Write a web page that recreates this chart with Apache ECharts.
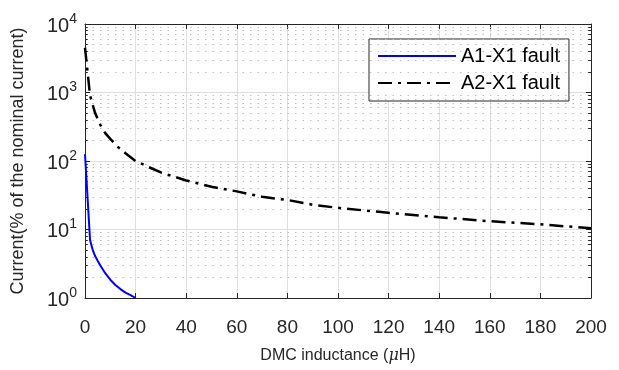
<!DOCTYPE html>
<html>
<head>
<meta charset="utf-8">
<script src="https://cdn.jsdelivr.net/npm/echarts@6/dist/echarts.min.js"></script>
<style>html,body{margin:0;padding:0;background:#fff}#c{width:619px;height:370px}</style>
</head>
<body>
<div id="c"></div>
<script>
// ---- data ----
var seriesNames = ['A1-X1 fault', 'A2-X1 fault'];
var a1x = [0, 2, 3, 4, 5, 6, 8, 10, 12, 14, 16, 18, 20];
var a1y = [126, 7.0, 5.1, 4.1, 3.5, 3.0, 2.3, 1.85, 1.55, 1.35, 1.2, 1.1, 1.0];
var a2x = [0, 2, 4, 6, 8, 10, 13, 16, 20, 25, 30, 40, 50, 60, 70, 80, 90, 100, 120, 140, 160, 180, 200];
var a2y = [4500, 900, 500, 340, 255, 210, 160, 130, 100, 82, 68, 52, 42, 36, 30, 27, 23, 20.7, 17.5, 15.1, 13.2, 11.9, 10.4];
var xTicks = [0, 20, 40, 60, 80, 100, 120, 140, 160, 180, 200];
var yDecades = [1, 10, 100, 1000, 10000];
var yExponents = ['0', '1', '2', '3', '4'];
var yMinor = [2,3,4,5,6,7,8,9,20,30,40,50,60,70,80,90,200,300,400,500,600,700,800,900,2000,3000,4000,5000,6000,7000,8000,9000];
var xTitle = 'DMC inductance (';
var xUnit = ['\u03bc', 'H)'];
var yTitle = 'Current(% of the nominal current)';

// ---- build ----
var FONT = 'Liberation Sans, Arial, Helvetica, sans-serif';
var AX = '#262626';
function pairs(xs, ys) { return xs.map(function (x, i) { return [x, ys[i]]; }); }
var xMin = xTicks[0], xMax = xTicks[xTicks.length - 1];

var minorGrid = yMinor.map(function (v) { return { yAxis: v }; });
var minorTickL = yMinor.map(function (v) { return [{ coord: [xMin, v] }, { coord: [xMin + 1.1, v] }]; });
var minorTickR = yMinor.map(function (v) { return [{ coord: [xMax - 1.1, v] }, { coord: [xMax, v] }]; });

var chart = echarts.init(document.getElementById('c'), null, { renderer: 'canvas' });
chart.setOption({
  animation: false,
  backgroundColor: '#fff',
  textStyle: { fontFamily: FONT },
  grid: { left: 85, right: 28, top: 24, bottom: 72, containLabel: false },
  legend: {
    orient: 'vertical',
    left: 369, top: 39,
    padding: [5, 9, 6, 8],
    itemWidth: 78, itemHeight: 14, itemGap: 3,
    backgroundColor: '#fff',
    borderColor: AX, borderWidth: 1,
    borderRadius: 0,
    itemStyle: { opacity: 0 },
    textStyle: { fontFamily: FONT, fontSize: 20, color: '#000', lineHeight: 24 },
    data: seriesNames
  },
  xAxis: [{
    type: 'value', min: xMin, max: xMax, interval: 20,
    name: '{t|' + xTitle + '}{m|' + xUnit[0] + '}{t|' + xUnit[1] + '}',
    nameLocation: 'middle', nameGap: 50,
    nameTextStyle: { fontFamily: FONT, fontSize: 16, color: AX,
      rich: {
        t: { fontFamily: FONT, fontSize: 16, color: AX },
        m: { fontFamily: 'DejaVu Serif, serif', fontStyle: 'italic', fontSize: 16, color: AX }
      } },
    axisLine: { show: true, onZero: false, lineStyle: { color: AX, width: 1 } },
    axisTick: { show: true, inside: true, length: 5, lineStyle: { color: AX } },
    axisLabel: { fontFamily: FONT, fontSize: 19, color: AX, margin: 20 },
    splitLine: { show: true, lineStyle: { color: '#dfdfdf', width: 1 } }
  }, {
    type: 'value', min: xMin, max: xMax, interval: 20, position: 'top',
    axisLine: { show: true, onZero: false, lineStyle: { color: AX, width: 1 } },
    axisTick: { show: true, inside: true, length: 5, lineStyle: { color: AX } },
    axisLabel: { show: false }, splitLine: { show: false }
  }],
  yAxis: [{
    type: 'log', logBase: 10, min: yDecades[0], max: yDecades[yDecades.length - 1],
    name: yTitle, nameLocation: 'middle', nameGap: 58,
    nameTextStyle: { fontFamily: FONT, fontSize: 18, color: AX },
    axisLine: { show: true, onZero: false, lineStyle: { color: AX, width: 1 } },
    axisTick: { show: true, inside: true, length: 5, lineStyle: { color: AX } },
    axisLabel: {
      margin: 8,
      formatter: function (v) {
        var i = yDecades.indexOf(Math.round(v));
        return '{b|10}{s|' + (i >= 0 ? yExponents[i] : '') + '}';
      },
      rich: {
        b: { fontFamily: FONT, fontSize: 20, color: AX, verticalAlign: 'bottom', lineHeight: 24 },
        s: { fontFamily: FONT, fontSize: 14, color: AX, verticalAlign: 'top', lineHeight: 24 }
      }
    },
    splitLine: { show: true, lineStyle: { color: '#dfdfdf', width: 1 } }
  }, {
    type: 'log', logBase: 10, min: yDecades[0], max: yDecades[yDecades.length - 1], position: 'right',
    axisLine: { show: true, onZero: false, lineStyle: { color: AX, width: 1 } },
    axisTick: { show: true, inside: true, length: 5, lineStyle: { color: AX } },
    axisLabel: { show: false }, splitLine: { show: false }
  }],
  series: [{
    name: '_grid', type: 'line', data: [], silent: true,
    markLine: { silent: true, symbol: ['none', 'none'], label: { show: false },
      lineStyle: { color: '#bdbdbd', type: [1.5, 6], width: 1 }, data: minorGrid, animation: false }
  }, {
    name: '_ticks', type: 'line', data: [], silent: true,
    markLine: { silent: true, symbol: ['none', 'none'], label: { show: false },
      lineStyle: { color: AX, type: 'solid', width: 1 }, data: minorTickL.concat(minorTickR), animation: false }
  }, {
    name: seriesNames[0], type: 'line', data: pairs(a1x, a1y),
    showSymbol: false, symbol: 'none', smooth: false,
    lineStyle: { color: '#0000ff', width: 2 }, itemStyle: { color: '#0000ff' }, z: 5
  }, {
    name: seriesNames[1], type: 'line', data: pairs(a2x, a2y),
    showSymbol: false, symbol: 'none', smooth: false,
    lineStyle: { color: '#000', width: 2.5, type: [14, 6, 3, 6] }, itemStyle: { color: '#000' }, z: 5
  }]
});
</script>
</body>
</html>
